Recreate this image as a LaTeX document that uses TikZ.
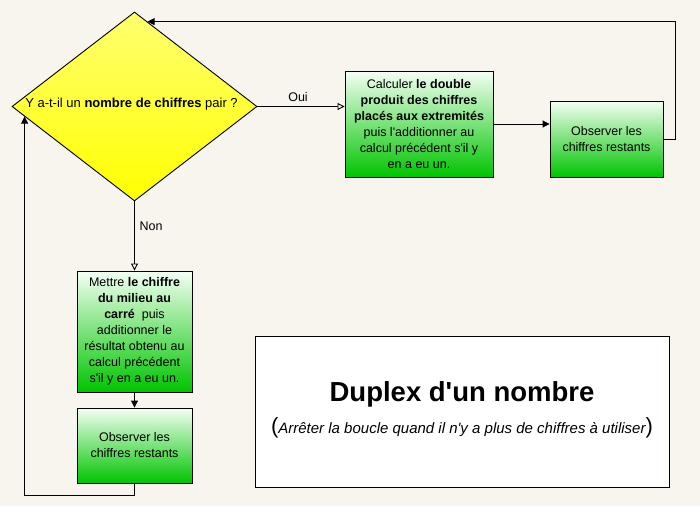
\documentclass[tikz,border=0pt]{standalone}
\usepackage{fontspec}
\setmainfont{Liberation Sans}
\usetikzlibrary{shapes.geometric,arrows.meta,calc}
\definecolor{bg}{HTML}{F8F5EF}
\definecolor{gtop}{HTML}{F4FFF4}
\definecolor{gbot}{HTML}{00C400}
\definecolor{ytop}{HTML}{FFFF70}
\definecolor{ybot}{HTML}{FFFF00}
\newcommand{\sq}{\textquotesingle}
\tikzset{
  greenbox/.style={draw=black, line width=0.9pt, top color=gtop, bottom color=gbot, inner sep=0pt, align=center, font=\fontsize{12.5}{16}\selectfont},
  conn/.style={line width=0.9pt, draw=black},
  openarr/.style={conn, -{Triangle[open, length=7pt, width=7pt]}},
  fillarr/.style={conn, -{Triangle[length=7pt, width=7pt]}},
  lbl/.style={font=\fontsize{12.5}{14}\selectfont, inner sep=1pt}
}
\begin{document}
\begin{tikzpicture}[x=1pt,y=-1pt]
\path[fill=bg, use as bounding box] (0,0) rectangle (700,506);
% decision
\node[diamond, draw=black, line width=0.9pt, top color=ytop, bottom color=ybot, minimum width=245pt, minimum height=189pt, inner sep=0pt] (dia) at (134.5,106.5) {};
\node[font=\fontsize{13}{15}\selectfont, inner sep=0pt] (q) at (131.5,104) {Y a-t-il un \textbf{nombre de chiffres} pair ?};
% boxes
\node[greenbox, minimum width=148pt, minimum height=106pt] (b1) at (419,124)
  {Calculer \textbf{le double}\\ \textbf{produit des chiffres}\\ \textbf{placés aux extremités}\\ puis l\sq additionner au\\ calcul précédent s\sq il y\\ en a eu un.};
\node[greenbox, minimum width=113pt, minimum height=76pt] (b2) at (606.5,139)
  {Observer les\\ chiffres restants};
\node[greenbox, minimum width=115pt, minimum height=121pt] (b3) at (134.5,331.5)
  {Mettre \textbf{le chiffre}\\ \textbf{du milieu au}\\ \textbf{carré}\ \ puis\\ additionner le\\ résultat obtenu au\\ calcul précédent\\ s\sq il y en a eu un.};
\node[greenbox, minimum width=115pt, minimum height=75pt] (b4) at (134.5,445.5)
  {Observer les\\ chiffres restants};
% title
\node[draw=black, fill=white, line width=0.9pt, minimum width=414pt, minimum height=151pt] (t) at (462,411.5) {};
\node[font=\fontsize{27.5}{30}\selectfont\bfseries, inner sep=0pt] (tt) at (462,394) {Duplex d\sq un nombre};
\node[font=\fontsize{15}{16}\selectfont\itshape, inner sep=0pt] (ts) at (462,428) {{\upshape\fontsize{22}{22}\selectfont(}Arrêter la boucle quand il n\sq y a plus de chiffres à utiliser{\upshape\fontsize{22}{22}\selectfont)}};
% connectors
\coordinate (dtop) at ($(dia.north)!0.106!(dia.east)$);
\coordinate (dleft) at ($(dia.west)!0.106!(dia.south)$);
\draw[openarr] (dia.east) -- (dia.east -| b1.west);
\node[lbl] (oui) at (298,97) {Oui};
\draw[fillarr] (b1.east) -- (b1.east -| b2.west);
\draw[fillarr] (b2.east) -- ++(12,0) |- (dtop);
\draw[openarr] (dia.south) -- (b3.north);
\node[lbl] (non) at (151,226) {Non};
\draw[fillarr] (b3.south) -- (b4.north);
\draw[fillarr] (b4.south) -- ++(0,12) -| (dleft);
\end{tikzpicture}
\end{document}
